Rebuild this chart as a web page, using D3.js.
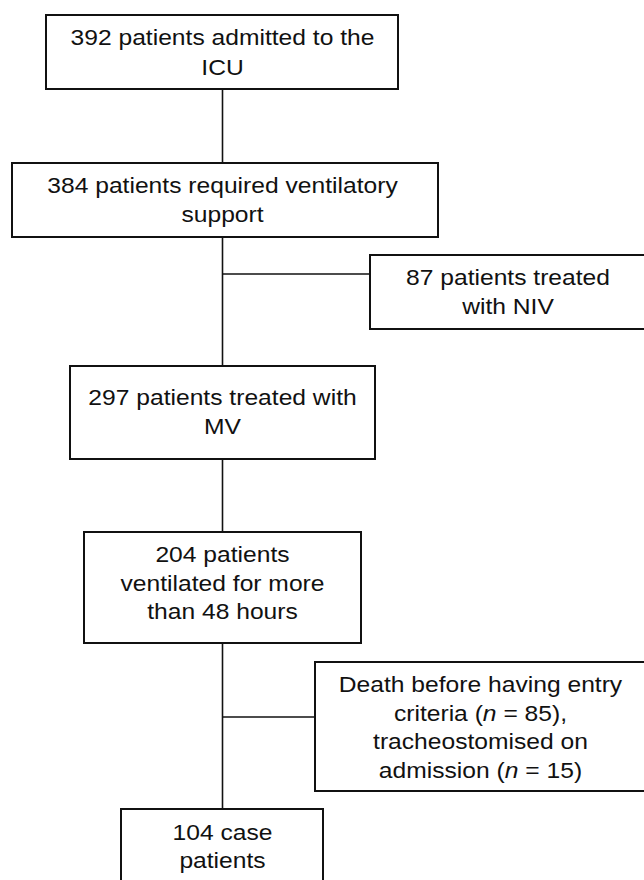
<!DOCTYPE html>
<html>
<head>
<meta charset="utf-8">
<script src="https://cdn.jsdelivr.net/npm/d3@7"></script>
<style>
  body { margin: 0; background: #fff; }
  text { font-family: "Liberation Sans", Arial, Helvetica, sans-serif; font-size: 22px; fill: #111; }
</style>
</head>
<body>
<div id="flow"></div>
<script>
// Text of the main column boxes (top to bottom); *n* marks italic n
var mainLabels = [
    ["392 patients admitted to the", "ICU"],
    ["384 patients required ventilatory", "support"],
    ["297 patients treated with", "MV"],
    ["204 patients", "ventilated for more", "than 48 hours"],
    ["104 case", "patients"]
];

// Text of the side (exclusion) boxes
var sideLabels = [
    ["87 patients treated", "with NIV"],
    ["Death before having entry", "criteria (*n* = 85),", "tracheostomised on", "admission (*n* = 15)"]
];

// Which main box each side box branches from
var sideFrom = [1, 3];

// Layout of the boxes (pixels)
var mainBoxes = [
    {x0: 46,  x1: 398, y0: 15,  y1: 89,  first: 45,  lh: 30},
    {x0: 12,  x1: 438, y0: 163, y1: 237, first: 193, lh: 29},
    {x0: 70,  x1: 375, y0: 366, y1: 459, first: 405, lh: 28.5},
    {x0: 84,  x1: 361, y0: 532, y1: 643, first: 562, lh: 28.5},
    {x0: 121, x1: 323, y0: 809, y1: 900, first: 840, lh: 27.5}
];
var sideBoxes = [
    {x0: 370, x1: 646, y0: 255, y1: 329, first: 285, lh: 28.5, branchY: 274},
    {x0: 315, x1: 646, y0: 662, y1: 791, first: 692, lh: 28.5, branchY: 717}
];

var width = 644, height = 880, spineX = 222.5;

var svg = d3.select("#flow").append("svg")
    .attr("width", width)
    .attr("height", height);

// Vertical connectors between main boxes
var links = d3.range(mainBoxes.length - 1).map(function(i) {
    return {y0: mainBoxes[i].y1, y1: mainBoxes[i + 1].y0};
});
svg.selectAll("line.link")
    .data(links)
    .enter().append("line")
    .attr("class", "link")
    .attr("x1", spineX).attr("x2", spineX)
    .attr("y1", function(d) { return d.y0; })
    .attr("y2", function(d) { return d.y1; })
    .style("stroke", "#111")
    .style("stroke-width", 1.6);

// Horizontal branches to the side boxes
svg.selectAll("line.branch")
    .data(sideBoxes)
    .enter().append("line")
    .attr("class", "branch")
    .attr("x1", spineX)
    .attr("x2", function(d) { return d.x0; })
    .attr("y1", function(d) { return d.branchY; })
    .attr("y2", function(d) { return d.branchY; })
    .style("stroke", "#111")
    .style("stroke-width", 1.6);

function drawBoxes(boxes, labels, cls, cxFn) {
    var g = svg.selectAll("g." + cls)
        .data(boxes)
        .enter().append("g")
        .attr("class", cls);

    g.append("rect")
        .attr("x", function(d) { return d.x0; })
        .attr("y", function(d) { return d.y0; })
        .attr("width", function(d) { return d.x1 - d.x0; })
        .attr("height", function(d) { return d.y1 - d.y0; })
        .style("fill", "#fff")
        .style("stroke", "#111")
        .style("stroke-width", 2);

    g.each(function(d, i) {
        var cx = cxFn(d);
        labels[i].forEach(function(line, j) {
            var t = d3.select(this).append("text")
                .attr("text-anchor", "middle")
                .attr("transform", "translate(" + cx + "," + (d.first + j * d.lh) + ") scale(1.12,1)");
            line.split("*").forEach(function(part, k) {
                if (!part) return;
                t.append("tspan")
                    .style("font-style", k % 2 ? "italic" : "normal")
                    .text(part);
            });
        }, this);
    });
}

drawBoxes(mainBoxes, mainLabels, "main", function() { return spineX; });
drawBoxes(sideBoxes, sideLabels, "side", function(d) { return (d.x0 + d.x1) / 2; });
</script>
</body>
</html>
